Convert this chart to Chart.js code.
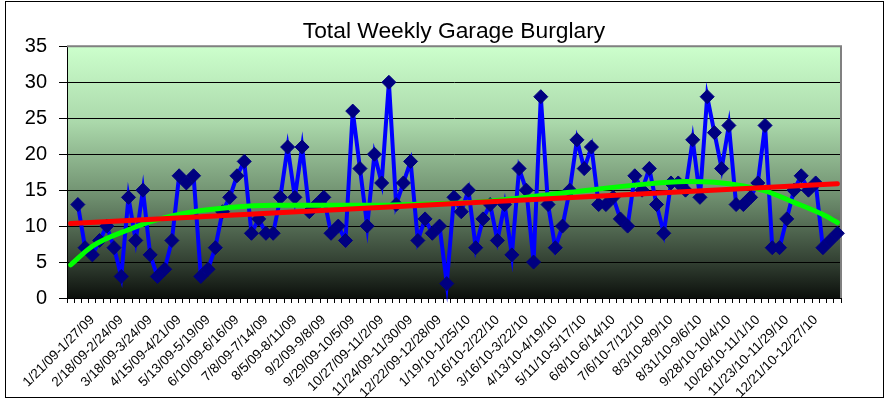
<!DOCTYPE html>
<html>
<head>
<meta charset="utf-8">
<title>Total Weekly Garage Burglary</title>
<script src="https://cdn.jsdelivr.net/npm/chart.js@4.4.0/dist/chart.umd.min.js"></script>
<style>
    body { margin: 0; background: #fff; }
</style>
</head>
<body>
<canvas id="mycanvas" width="886" height="400"></canvas>
<script>
// week labels shown on the axis (every 4th week)
var tickLabels = [
    '1/21/09-1/27/09', '2/18/09-2/24/09', '3/18/09-3/24/09', '4/15/09-4/21/09',
    '5/13/09-5/19/09', '6/10/09-6/16/09', '7/8/09-7/14/09', '8/5/09-8/11/09',
    '9/2/09-9/8/09', '9/29/09-10/5/09', '10/27/09-11/2/09', '11/24/09-11/30/09',
    '12/22/09-12/28/09', '1/19/10-1/25/10', '2/16/10-2/22/10', '3/16/10-3/22/10',
    '4/13/10-4/19/10', '5/11/10-5/17/10', '6/8/10-6/14/10', '7/6/10-7/12/10',
    '8/3/10-8/9/10', '8/31/10-9/6/10', '9/28/10-10/4/10', '10/26/10-11/1/10',
    '11/23/10-11/29/10', '12/21/10-12/27/10'
];
var firstLabelWeek = 3;
var labelEvery = 4;

// weekly garage burglaries (first week empty)
var burglaries = [null,
    13, 7, 6, 8, 10, 7, 3, 14, 8, 15, 6, 3, 4, 8,
    17, 16, 17, 3, 4, 7, 12, 14, 17, 19, 9, 11, 9, 9,
    14, 21, 14, 21, 12, 13, 14, 9, 10, 8,
    26, 18, 10, 20, 16, 30, 13, 16, 19, 8, 11, 9, 10, 2, 14, 12, 15, 7,
    11, 13, 8, 13, 6, 18, 15, 5, 28, 13, 7, 10, 15, 22, 18, 21, 13, 13,
    14, 11, 10, 17, 15, 18, 13, 9, 16, 16,
    15, 22, 14, 28, 23, 18, 24, 13, 13, 14, 16, 24, 7, 7, 11, 15, 17, 15, 16, 7, 8, 9
];

// trend lines (week index, value)
var linearTrendWeek = [0, 106];
var linearTrendValue = [10.35, 15.9];
var polyTrendWeek = [0, 3, 8, 12, 17, 22, 28, 41, 50, 57, 69, 78, 85, 89, 93, 96, 100, 104, 106];
var polyTrendValue = [4.6, 7.2, 9.5, 10.9, 12.0, 12.6, 12.9, 12.9, 13.1, 13.4, 14.7, 15.7, 16.2, 16.1, 15.6, 14.9, 13.3, 11.6, 10.5];

var yTicks = [0, 5, 10, 15, 20, 25, 30, 35];

var categories = [];
for (var i = 0; i < burglaries.length; i++) {
    var k = (i - firstLabelWeek) / labelEvery;
    categories.push(k >= 0 && k % 1 === 0 && k < tickLabels.length ? tickLabels[k] : '');
}

function toPoints(xs, ys) {
    var pts = [];
    for (var i = 0; i < xs.length; i++) {
        pts.push({ x: xs[i], y: ys[i] });
    }
    return pts;
}

var plotDecor = {
    id: 'plotDecor',
    beforeDraw: function (chart) {
        var a = chart.chartArea, ctx = chart.ctx;
        var g = ctx.createLinearGradient(0, a.top, 0, a.bottom);
        g.addColorStop(0, '#ccffcc');
        g.addColorStop(0.3, '#abd9ab');
        g.addColorStop(0.6, '#6e8e6e');
        g.addColorStop(0.85, '#344234');
        g.addColorStop(1, '#0c100c');
        ctx.save();
        ctx.fillStyle = g;
        ctx.fillRect(a.left, a.top, a.right - a.left, a.bottom - a.top);
        ctx.restore();
    },
    beforeDatasetsDraw: function (chart) {
        // grey frame on top and right of the plot
        var a = chart.chartArea, ctx = chart.ctx;
        ctx.save();
        ctx.strokeStyle = '#808080';
        ctx.lineWidth = 2;
        ctx.beginPath();
        ctx.moveTo(a.left, a.top);
        ctx.lineTo(a.right, a.top);
        ctx.lineTo(a.right, a.bottom);
        ctx.stroke();
        ctx.restore();
    },
    afterDraw: function (chart) {
        var ctx = chart.ctx;
        ctx.save();
        ctx.strokeStyle = '#000';
        ctx.lineWidth = 1;
        ctx.strokeRect(5.5, 1.5, chart.width - 8, chart.height - 4);
        ctx.restore();
    }
};

var ctx = document.getElementById('mycanvas');
var myChart = new Chart(ctx, {
    type: 'line',
    data: {
        labels: categories,
        datasets: [
            {
                label: 'Linear trend',
                data: toPoints(linearTrendWeek, linearTrendValue),
                xAxisID: 'xTrend',
                borderColor: '#ff0000',
                borderWidth: 5,
                borderCapStyle: 'round',
                pointRadius: 0,
                order: 0
            },
            {
                label: 'Poly trend',
                data: toPoints(polyTrendWeek, polyTrendValue),
                xAxisID: 'xTrend',
                borderColor: '#00ff00',
                borderWidth: 5,
                borderCapStyle: 'round',
                cubicInterpolationMode: 'monotone',
                pointRadius: 0,
                order: 1
            },
            {
                label: 'Total Weekly Garage Burglary',
                data: burglaries,
                xAxisID: 'x',
                borderColor: '#0000ff',
                borderWidth: 4,
                pointStyle: 'rectRot',
                pointRadius: 7,
                pointHoverRadius: 7,
                pointBorderWidth: 1,
                pointBackgroundColor: '#000080',
                pointBorderColor: '#000080',
                clip: false,
                order: 2
            }
        ]
    },
    options: {
        responsive: false,
        animation: false,
        devicePixelRatio: 1,
        layout: { padding: { left: 5, right: 45, top: 14, bottom: 0 } },
        plugins: {
            legend: { display: false },
            tooltip: { enabled: false },
            title: {
                display: true,
                fullSize: false,
                text: 'Total Weekly Garage Burglary',
                color: '#000',
                font: { family: 'Liberation Sans', size: 22.8, weight: 'normal' },
                padding: { top: 4, bottom: 1 }
            }
        },
        scales: {
            x: {
                type: 'category',
                offset: true,
                grid: { display: true, drawOnChartArea: false, drawTicks: true, tickLength: 5, color: '#000', offset: true },
                border: { display: true, color: '#000', width: 1 },
                ticks: {
                    autoSkip: false, minRotation: 45, maxRotation: 45, padding: 9, color: '#000',
                    font: { family: 'Liberation Sans', size: 13.5 }
                },
                afterFit: function (scale) { scale.height = 102; }
            },
            xTrend: {
                type: 'linear',
                display: false,
                min: -0.5,
                max: burglaries.length - 0.5
            },
            y: {
                min: yTicks[0],
                max: yTicks[yTicks.length - 1],
                afterBuildTicks: function (scale) {
                    scale.ticks = yTicks.map(function (v) { return { value: v }; });
                },
                grid: { color: '#000', lineWidth: 1, tickLength: 8, drawTicks: true },
                border: { display: true, color: '#000', width: 1 },
                ticks: { padding: 12, color: '#000', font: { family: 'Liberation Sans', size: 20 } },
                afterFit: function (scale) { scale.width = 62; }
            }
        }
    },
    plugins: [plotDecor]
});
</script>
</body>
</html>
